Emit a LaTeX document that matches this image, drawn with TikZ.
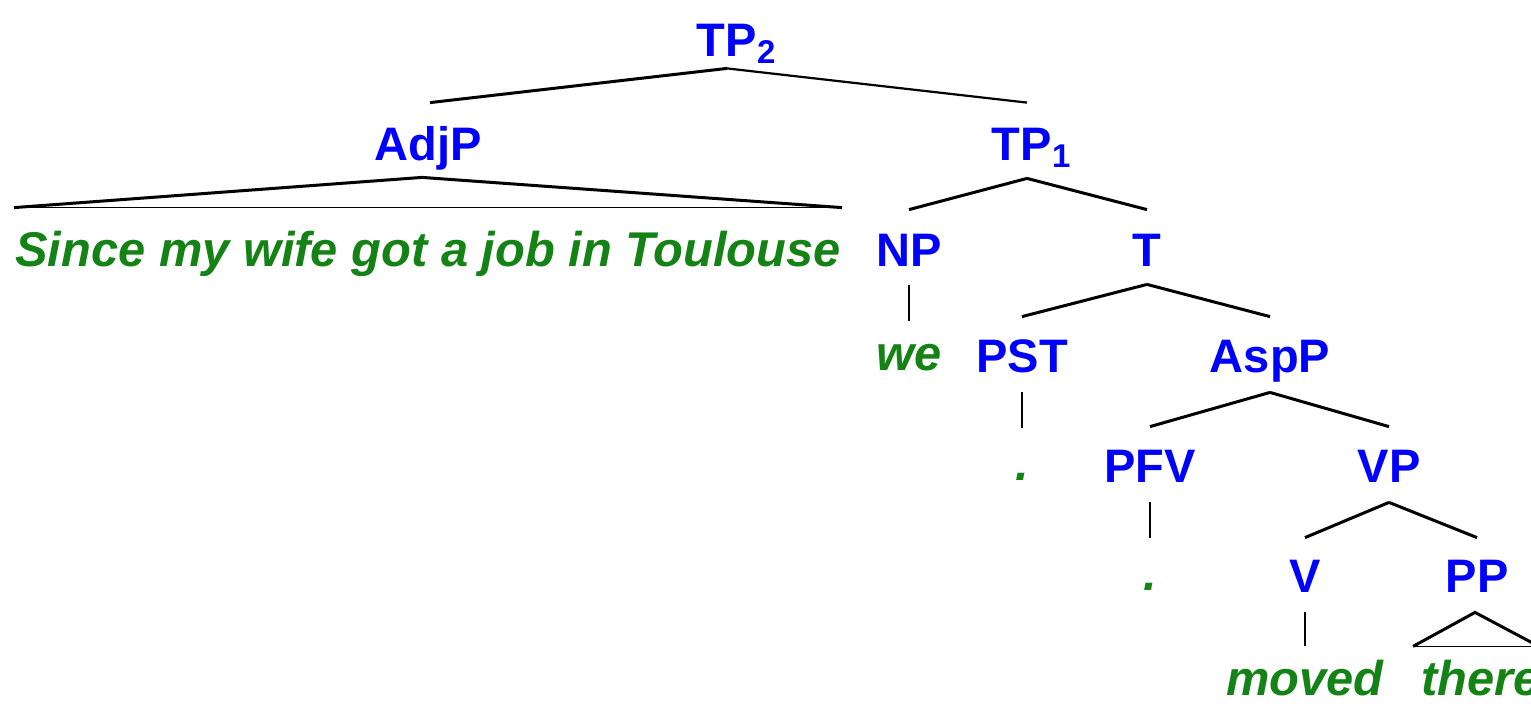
\documentclass[tikz,border=0pt]{standalone}
\usepackage{fontspec}
\setmainfont{Liberation Sans}
\usetikzlibrary{calc}
\definecolor{catblue}{RGB}{0,0,255}
\definecolor{wordgreen}{RGB}{20,130,20}
\begin{document}
\begin{tikzpicture}[x=0.5pt,y=-0.5pt,
  cat/.style={font=\bfseries\fontsize{23.5}{28}\selectfont, text=catblue,
              inner sep=0pt, text height=16.5pt, text depth=0pt, anchor=base},
  word/.style={cat, font=\bfseries\itshape\fontsize{24.4}{29}\selectfont, text=wordgreen},
  branch/.style={line width=1.5pt},
  thinbranch/.style={line width=1.1pt},
  bar/.style={line width=1pt},
  tribase/.style={line width=0.8pt}]
\useasboundingbox (0,0) rectangle (1531,703);
\clip (0,0) rectangle (1531,703);

% category labels
\node[cat] (TP2)  at (727,56)   {TP\rlap{\textsubscript{2}}};
\node[cat] (AdjP) at (428,160)  {AdjP};
\node[cat] (TP1)  at (1022,160) {TP\rlap{\textsubscript{1}}};
\node[cat] (NP)   at (909,266)  {NP};
\node[cat] (T)    at (1147,266) {T};
\node[cat] (PST)  at (1022,372) {PST};
\node[cat] (AspP) at (1270,372) {AspP};
\node[cat] (PFV)  at (1150,482) {PFV};
\node[cat] (VP)   at (1389,482) {VP};
\node[cat] (V)    at (1305,592) {V};
\node[cat] (PP)   at (1477,592) {PP};

% terminal words
\node[word] (S)     at (428,266)  {Since my wife got a job in Toulouse};
\node[word] (we)    at (909,370)  {we};
\node[word] (pst)   at (1022,480) {.};
\node[word] (pfv)   at (1150,590) {.};
\node[word] (moved) at (1305,695) {moved};
\node[word] (there) at (1481,695) {there};

% branches
\draw[branch] ($(TP2.south)+(0,12)$) -- ($(AdjP.north)+(2,-24)$);
\draw[thinbranch] ($(TP2.south)+(0,12)$) -- ($(TP1.north)+(5,-24)$);

\draw[branch] ($(S.north west)+(-1,-25)$) -- ($(AdjP.south)+(-6,17)$) -- ($(S.north east)+(1,-25)$);
\draw[tribase] ($(S.north west)+(-1,-25)$) -- ($(S.north east)+(1,-25)$);

\draw[branch] ($(TP1.south)+(5,18)$) -- ($(NP.north)+(0,-23)$);
\draw[branch] ($(TP1.south)+(5,18)$) -- ($(T.north)+(0,-23)$);
\draw[bar] ($(NP.south)+(0,19)$) -- ($(we.north)+(0,-16)$);

\draw[branch] ($(T.south)+(0,18)$) -- ($(PST.north)+(0,-22)$);
\draw[branch] ($(T.south)+(0,18)$) -- ($(AspP.north)+(0,-22)$);
\draw[bar] ($(PST.south)+(0,20)$) -- ($(pst.north)+(0,-19)$);

\draw[branch] ($(AspP.south)+(0,20)$) -- ($(PFV.north)+(0,-22)$);
\draw[branch] ($(AspP.south)+(0,20)$) -- ($(VP.north)+(0,-22)$);
\draw[bar] ($(PFV.south)+(0,20)$) -- ($(pfv.north)+(0,-19)$);

\draw[branch] ($(VP.south)+(0,20)$) -- ($(V.north)+(0,-21)$);
\draw[branch] ($(VP.south)+(0,20)$) -- ($(PP.north)+(0,-21)$);
\draw[bar] ($(V.south)+(0,20)$) -- ($(moved.north)+(0,-16)$);

\draw[branch] ($(PP.south)+(-64,54)$) -- ($(PP.south)+(-2,20)$) -- ($(PP.south)+(62,54)$);
\draw[tribase] ($(PP.south)+(-64,54)$) -- ($(PP.south)+(62,54)$);
\end{tikzpicture}
\end{document}
